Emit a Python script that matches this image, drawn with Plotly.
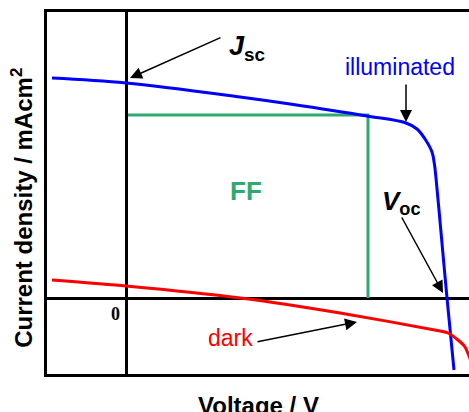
import plotly.graph_objects as go

# Data (Voltage in V, current density in mA/cm^2)
v_light = [-0.185, 0.0, 0.285, 0.41, 0.6025, 0.70, 0.7275, 0.7475, 0.765, 0.771, 0.775, 0.7825, 0.8025, 0.82]
j_light = [22.0, 21.5, 20.1, 19.4, 18.2, 17.5, 16.9, 15.9, 14.6, 13.4, 12.0, 8.8, 0.0, -7.2]

v_dark = [-0.185, 0.0, 0.285, 0.535, 0.785, 0.805, 0.83, 0.8475, 0.8575, 0.865]
j_dark = [1.8, 1.2, 0.0, -1.5, -3.3, -3.5, -4.2, -4.9, -5.8, -6.6]

# maximum power point (fill factor rectangle)
v_mp = 0.605
j_mp = 18.3
v_ff_start = 0.005

x_range = [-0.1975, 0.8575]
y_range = [-7.6, 28.6]

BLUE = "#0000ff"
RED = "#ff0000"
GREEN = "#2eaa6e"
FONT = "Liberation Sans, Arial, sans-serif"

fig = go.Figure()

fig.add_trace(go.Scatter(x=[v_ff_start, v_mp, v_mp], y=[j_mp, j_mp, 0], mode="lines",
                         line=dict(color=GREEN, width=3), hoverinfo="skip"))
fig.add_trace(go.Scatter(x=v_light, y=j_light, mode="lines",
                         line=dict(color=BLUE, width=3, shape="spline", smoothing=1.0)))
fig.add_trace(go.Scatter(x=v_dark, y=j_dark, mode="lines",
                         line=dict(color=RED, width=3, shape="spline", smoothing=0.6)))

ann = []
# Jsc label and arrow
ann.append(dict(x=0.2525, y=25.0, xref="x", yref="y", xanchor="left", yanchor="middle",
                text="<b><i>J</i></b><sub><b>sc</b></sub>", showarrow=False,
                font=dict(family=FONT, size=27, color="black")))
ann.append(dict(x=0.01, y=22.0, ax=0.24, ay=26.1, xref="x", yref="y", axref="x", ayref="y",
                text="", showarrow=True, arrowhead=2, arrowsize=1.6, arrowwidth=1.5,
                arrowcolor="black", standoff=0, startstandoff=0))
# illuminated
ann.append(dict(x=0.685, y=23.1, xref="x", yref="y", xanchor="center", yanchor="middle",
                text="illuminated", showarrow=False,
                font=dict(family=FONT, size=23, color=BLUE)))
ann.append(dict(x=0.70, y=17.6, ax=0.70, ay=21.5, xref="x", yref="y", axref="x", ayref="y",
                text="", showarrow=True, arrowhead=2, arrowsize=1.6, arrowwidth=1.5,
                arrowcolor="black", standoff=0, startstandoff=0))
# Voc
ann.append(dict(x=0.635, y=9.6, xref="x", yref="y", xanchor="left", yanchor="middle",
                text="<b><i>V</i></b><sub><b>oc</b></sub>", showarrow=False,
                font=dict(family=FONT, size=26, color="black")))
ann.append(dict(x=0.7925, y=0.5, ax=0.6875, ay=8.2, xref="x", yref="y", axref="x", ayref="y",
                text="", showarrow=True, arrowhead=2, arrowsize=1.6, arrowwidth=1.5,
                arrowcolor="black", standoff=0, startstandoff=0))
# FF
ann.append(dict(x=0.30, y=10.7, xref="x", yref="y", xanchor="center", yanchor="middle",
                text="<b>FF</b>", showarrow=False,
                font=dict(family=FONT, size=26, color=GREEN)))
# dark
ann.append(dict(x=0.26, y=-4.0, xref="x", yref="y", xanchor="center", yanchor="middle",
                text="dark", showarrow=False,
                font=dict(family=FONT, size=23, color=RED)))
ann.append(dict(x=0.5775, y=-2.4, ax=0.325, ay=-4.4, xref="x", yref="y", axref="x", ayref="y",
                text="", showarrow=True, arrowhead=2, arrowsize=1.6, arrowwidth=1.5,
                arrowcolor="black", standoff=0, startstandoff=0))
# origin label
ann.append(dict(x=-0.01, y=-0.4, xref="x", yref="y", xanchor="right", yanchor="top",
                text="<b>0</b>", showarrow=False,
                font=dict(family="Liberation Serif, Times New Roman, serif", size=18, color="black")))
# axis titles
ann.append(dict(x=0.5, y=0, xref="paper", yref="paper", xanchor="center", yanchor="middle",
                yshift=-31, text="<b>Voltage / V</b>", showarrow=False,
                font=dict(family=FONT, size=24, color="black")))
ann.append(dict(x=0, y=0.459, xref="paper", yref="paper", xanchor="center", yanchor="middle",
                xshift=-25, textangle=-90, text="<b>Current density / mAcm<sup>2</sup></b>",
                showarrow=False, font=dict(family=FONT, size=24, color="black")))

fig.update_layout(
    width=469, height=412,
    margin=dict(l=47, r=0, t=12, b=38),
    paper_bgcolor="white", plot_bgcolor="white",
    showlegend=False,
    annotations=ann,
    xaxis=dict(range=x_range, showgrid=False, showticklabels=False, ticks="",
               zeroline=True, zerolinecolor="black", zerolinewidth=3,
               showline=True, linecolor="black", linewidth=3, mirror=True, fixedrange=True),
    yaxis=dict(range=y_range, showgrid=False, showticklabels=False, ticks="",
               zeroline=True, zerolinecolor="black", zerolinewidth=3,
               showline=True, linecolor="black", linewidth=3, mirror=False, fixedrange=True),
)

fig.write_html("out.html")
